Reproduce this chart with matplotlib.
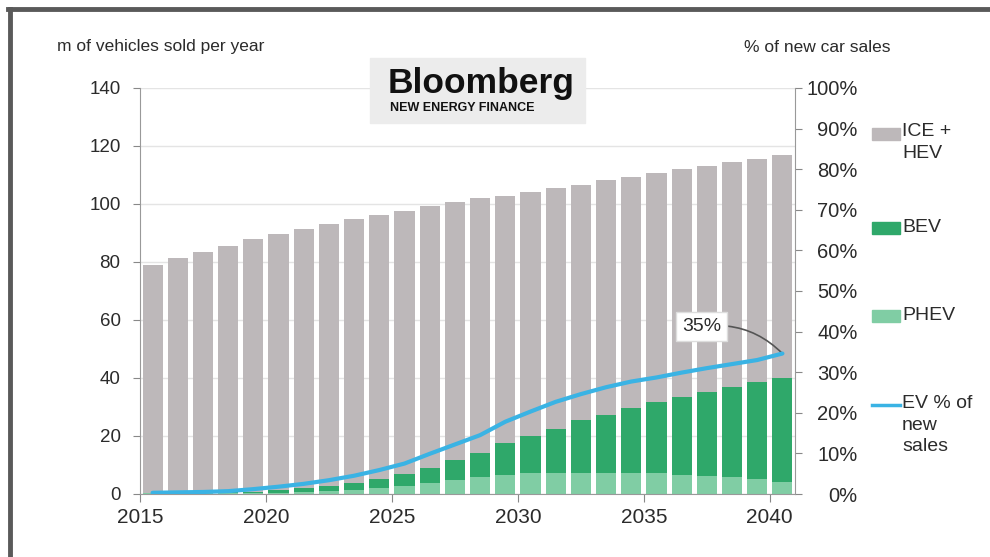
import matplotlib
matplotlib.use('Agg')
import matplotlib.pyplot as plt
from matplotlib.patches import Rectangle
from matplotlib.lines import Line2D
from matplotlib.ticker import PercentFormatter
import numpy as np

plt.rcParams['font.family'] = ['Liberation Sans', 'DejaVu Sans']

# data
years = list(range(2015, 2041))
total_sales = [79, 81.4, 83.4, 85.5, 87.9, 89.8, 91.4, 93.2, 94.7, 96.1, 97.6, 99.2, 100.6,
               102, 102.9, 104.2, 105.4, 106.6, 108.3, 109.2, 110.6, 112, 113.2, 114.6, 115.5, 116.9]
phev = [0.2, 0.2, 0.3, 0.3, 0.4, 0.5, 0.6, 1.0, 1.4, 2.0, 2.8, 3.7, 4.8,
        5.7, 6.5, 7.1, 7.1, 7.4, 7.4, 7.1, 7.1, 6.5, 6.2, 5.7, 5.1, 4.3]
bev = [0.1, 0.2, 0.2, 0.3, 0.4, 0.9, 1.4, 1.8, 2.5, 3.3, 4.0, 5.4, 6.8,
       8.5, 11.0, 12.9, 15.4, 18.1, 19.8, 22.4, 24.6, 26.8, 28.9, 31.1, 33.5, 35.6]
ev_share = [0.3, 0.4, 0.5, 0.7, 1.2, 1.8, 2.5, 3.4, 4.5, 5.9, 7.5, 9.9, 12.2,
            14.5, 17.8, 20.3, 22.7, 24.6, 26.3, 27.7, 28.7, 29.9, 31.0, 32.0, 33.0, 34.6]
tick_years = [2015, 2020, 2025, 2030, 2035, 2040]

ice = [t - b - p for t, b, p in zip(total_sales, bev, phev)]
x = np.arange(len(years))

c_ice = '#bdb8ba'
c_bev = '#2fa86a'
c_phev = '#80cda4'
c_line = '#3ab3e4'
txt = '#2b2b2b'

W, H = 990, 557
fig = plt.figure(figsize=(9.9, 5.57), dpi=100)
ax = fig.add_axes([140 / W, 1 - 494 / H, (795 - 140) / W, (494 - 88) / H])

ax.bar(x, phev, width=0.8, color=c_phev, zorder=2)
ax.bar(x, bev, width=0.8, bottom=phev, color=c_bev, zorder=2)
ax.bar(x, ice, width=0.8, bottom=[p + b for p, b in zip(phev, bev)], color=c_ice, zorder=2)

ax.set_xlim(-0.5, len(years) - 0.5)
ax.set_ylim(0, 140)
ax.set_yticks(range(0, 141, 20))
ax.yaxis.grid(True, color='#e4e4e4', lw=1, zorder=0)
ax.set_axisbelow(True)
ax.set_xticks([years.index(y) - 0.5 for y in tick_years])
ax.set_xticklabels([str(y) for y in tick_years])
ax.tick_params(axis='x', labelsize=15, colors='#888888', labelcolor=txt, length=6, direction='out', pad=4)
ax.tick_params(axis='y', labelsize=13.5, colors='#888888', labelcolor=txt, length=5, direction='out', pad=9)
for s in ['left', 'bottom']:
    ax.spines[s].set_color('#999999')
ax.spines['top'].set_visible(False)
ax.spines['right'].set_visible(False)

ax2 = ax.twinx()
ax2.plot(x, ev_share, color=c_line, lw=3, solid_capstyle='round', zorder=5)
ax2.set_ylim(0, 100)
ax2.set_yticks(range(0, 101, 10))
ax2.yaxis.set_major_formatter(PercentFormatter(decimals=0))
ax2.tick_params(axis='y', labelsize=14.5, colors='#888888', labelcolor=txt, length=5, direction='out')
for lab in ax2.get_yticklabels():
    lab.set_horizontalalignment('right')
ax2.tick_params(axis='y', pad=40)
ax2.spines['right'].set_color('#999999')
for s in ['top', 'left', 'bottom']:
    ax2.spines[s].set_visible(False)

ax2.annotate('35%', xy=(x[-1], ev_share[-1]), xytext=(21.8, 41.2), textcoords='data',
             fontsize=14, color=txt, ha='center', va='center',
             bbox=dict(boxstyle='square,pad=0.3', fc='white', ec='#dddddd'),
             arrowprops=dict(arrowstyle='-', color='#555555', lw=1.2,
                             connectionstyle='arc3,rad=-0.25', shrinkA=0, shrinkB=0))

# axis titles
fig.text(57 / W, 1 - 47 / H, 'm of vehicles sold per year', fontsize=12.5, color=txt, va='center')
fig.text(890 / W, 1 - 47 / H, '% of new car sales', fontsize=12.5, color=txt, va='center', ha='right')

# logo
fig.patches.append(Rectangle((370 / W, 1 - 123 / H), 215 / W, 65 / H, transform=fig.transFigure,
                             color='#ececec', zorder=3))
fig.text(481 / W, 1 - 83 / H, 'Bloomberg', fontsize=25.5, fontweight='bold', color='#111111',
         ha='center', va='center', zorder=4)
fig.text(390 / W, 1 - 108 / H, 'NEW ENERGY FINANCE', fontsize=9, fontweight='bold', color='#111111',
         ha='left', va='center', zorder=4)

# legend
leg_x0, leg_x1 = 872 / W, 900 / W
for ymid, col in [(134, c_ice), (228, c_bev), (316, c_phev)]:
    fig.patches.append(Rectangle((leg_x0, 1 - (ymid + 6) / H), leg_x1 - leg_x0, 12 / H,
                                 transform=fig.transFigure, color=col))
fig.add_artist(Line2D([leg_x0, leg_x1], [1 - 405 / H, 1 - 405 / H], color=c_line, lw=2.5,
                      transform=fig.transFigure))
fig.text(902 / W, 1 - 123 / H, 'ICE +\nHEV', fontsize=14, color=txt, va='top', linespacing=1.35)
fig.text(902 / W, 1 - 228 / H, 'BEV', fontsize=14, color=txt, va='center')
fig.text(902 / W, 1 - 316 / H, 'PHEV', fontsize=14, color=txt, va='center')
fig.text(902 / W, 1 - 395 / H, 'EV % of\nnew\nsales', fontsize=14, color=txt, va='top', linespacing=1.35)

# frame
fig.add_artist(Line2D([8 / W, 1], [1 - 9 / H, 1 - 9 / H], color='#5a5a5a', lw=3.5, transform=fig.transFigure))
fig.add_artist(Line2D([10 / W, 10 / W], [0, 1 - 9 / H], color='#5a5a5a', lw=3.5, transform=fig.transFigure))

fig.savefig('out.png', dpi=100)
